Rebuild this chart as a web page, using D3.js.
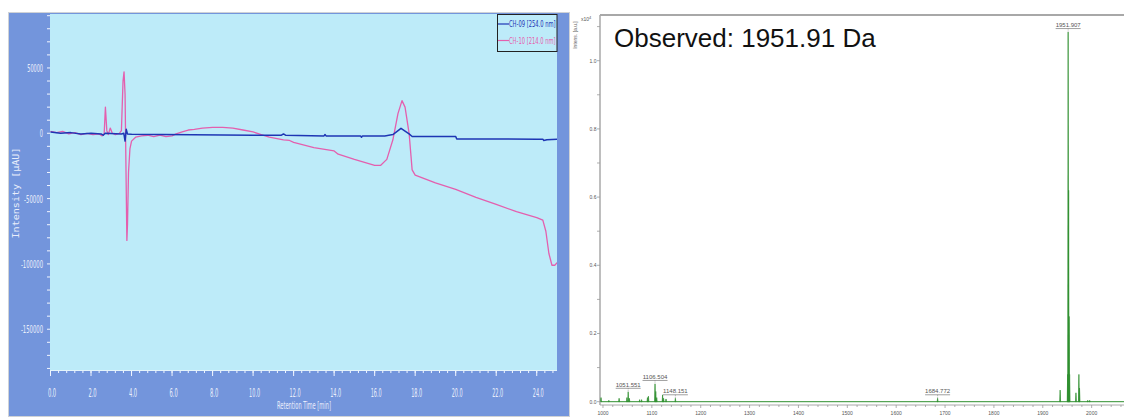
<!DOCTYPE html>
<html>
<head>
<meta charset="utf-8">
<script src="https://cdn.jsdelivr.net/npm/d3@7"></script>
<style>
  body { margin: 0; background: #fff; }
  svg { display: block; }
</style>
</head>
<body>
<svg id="chart" width="1124" height="417"></svg>
<script>
// ---------- HPLC chromatogram ----------
// CH-10 (214 nm): retention time [min] and intensity [µAU]
const ch10Time = [0, 0.3, 0.6, 0.9, 1.2, 1.5, 1.8, 2.1, 2.4, 2.55, 2.65, 2.71, 2.78, 2.85, 2.95, 3.05, 3.2, 3.4, 3.5,
  3.58, 3.63, 3.68, 3.72, 3.77, 3.8, 3.85, 3.92, 4.0, 4.2, 4.5, 4.8, 5.1, 5.4, 5.7, 6.0, 6.2, 6.5, 6.8, 7.1, 7.5,
  8.0, 8.5, 9.0, 9.5, 10.0, 10.4, 10.8, 11.5, 11.8, 12.0, 13.0, 14.0, 14.2, 15.0, 16.0, 16.3, 16.6, 16.9, 17.15,
  17.35, 17.5, 17.7, 17.85, 18.0, 19.0, 20.0, 21.0, 22.0, 23.0, 24.0, 24.3, 24.45, 24.6, 24.75, 24.9, 25.0];
const ch10Value = [1500, 500, 1500, -500, 500, -1000, 0, -1000, -500, -2000, 0, 20000, 2000, -1000, 4000, 0, -1000, 0, 2000,
  40000, 47000, 30000, -20000, -82000, -70000, -30000, -12000, -6000, -3000, -2000, -1500, -2500, -1500, -2500, -2000, -500, 1000, 2500, 3000, 4000,
  4500, 4500, 4000, 2500, 1000, -1000, -3000, -5000, -5500, -7000, -11000, -13500, -16000, -20000, -24500, -24500, -20000, -5000, 15000,
  25000, 20000, 0, -28000, -32000, -38000, -43000, -49000, -54500, -60000, -64500, -66500, -75000, -92000, -101000, -101000, -99000];

// CH-09 (254 nm)
const ch09Time = [0, 0.5, 1.0, 1.5, 2.0, 2.5, 2.6, 2.7, 3.5, 3.62, 3.68, 3.74, 3.8, 4.0, 10.0, 11.4, 11.5, 11.6, 13.5, 13.55,
  13.6, 15.3, 15.35, 15.4, 16.5, 16.9, 17.3, 17.7, 17.85, 20.0, 20.05, 24.0, 24.3, 24.35, 24.5, 25.0];
const ch09Value = [1000, 0, 500, -500, 0, -500, -1500, 0, -500, 0, -6000, 3000, -500, -800, -1500, -1500, -500, -1500, -2000, -1000,
  -2000, -2000, -3000, -2000, -2000, -1000, 3800, -500, -2500, -2500, -4300, -4500, -4500, -5500, -5000, -4500];

const hplcTimeTicks = [0, 2, 4, 6, 8, 10, 12, 14, 16, 18, 20, 22, 24];
const hplcIntensityTicks = [50000, 0, -50000, -100000, -150000];
const legendLabels = ["CH-09 [254.0 nm]", "CH-10 [214.0 nm]"];

// ---------- MALDI-TOF spectrum ----------
// peak m/z and intensity (x10^4 a.u.)
const msPeakMz = [996, 1012, 1033, 1049, 1051.551, 1054, 1075, 1079, 1091, 1093, 1106.504, 1108, 1110, 1122, 1124, 1129,
  1148.151, 1684.772, 1935.5, 1950.9, 1951.907, 1952.9, 1953.9, 1954.9, 1967.9, 1973.9, 1975.2, 1992, 1996];
const msPeakIntensity = [0.012, 0.004, 0.010, 0.012, 0.029, 0.010, 0.006, 0.006, 0.012, 0.016, 0.052, 0.030, 0.012, 0.020, 0.010, 0.008,
  0.010, 0.010, 0.034, 0.080, 1.084, 0.62, 0.25, 0.08, 0.026, 0.080, 0.040, 0.004, 0.004];
const msLabelMz = [1051.551, 1106.504, 1148.151, 1684.772, 1951.907];
const msMzTicks = [1000, 1100, 1200, 1300, 1400, 1500, 1600, 1700, 1800, 1900, 2000];
const msIntensityTicks = [0, 0.2, 0.4, 0.6, 0.8, 1.0];
const observedText = "Observed: 1951.91 Da";

const svg = d3.select("#chart");
svg.append("rect").attr("width", 1124).attr("height", 417).attr("fill", "#fff");

// ===== Left panel: chromatogram =====
const frameBlue = "#7395dc";
const plotBg = "#bdebf9";
const axisText = "#e9eefb";
const narrow = "'Liberation Sans Narrow','DejaVu Sans Condensed',sans-serif";

const L = { left: 50, right: 557, top: 14, bottom: 370 };
svg.append("rect").attr("x", 8.5).attr("y", 12.5).attr("width", 561).attr("height", 404)
  .attr("fill", frameBlue).attr("stroke", "#cfd2d6").attr("stroke-width", 1);
svg.append("rect").attr("x", L.left).attr("y", L.top).attr("width", L.right - L.left).attr("height", L.bottom - L.top)
  .attr("fill", plotBg);

const xT = d3.scaleLinear().domain([0, 25]).range([L.left + 0.5, L.right]);
const yI = d3.scaleLinear().domain([-181200, 91300]).range([L.bottom, L.top]);

// y ticks (minor every 10000)
const gy = svg.append("g");
gy.selectAll("line").data(d3.range(-180000, 90001, 10000)).join("line")
  .attr("x1", L.left - 3).attr("x2", L.left)
  .attr("y1", d => yI(d)).attr("y2", d => yI(d))
  .attr("stroke", "#f2f6ff").attr("stroke-width", 1);
gy.selectAll("text").data(hplcIntensityTicks).join("text")
  .attr("x", 43).attr("y", d => yI(d))
  .attr("text-anchor", "end").attr("dominant-baseline", "central")
  .attr("font-family", narrow).attr("font-size", 10.5).attr("fill", axisText)
  .attr("textLength", d => String(d).length * 3.15).attr("lengthAdjust", "spacingAndGlyphs")
  .text(d => String(d));

// x ticks (minor every 0.4 min)
const gx = svg.append("g");
svg.append("line").attr("x1", L.left).attr("x2", L.right).attr("y1", L.bottom + 0.5).attr("y2", L.bottom + 0.5)
  .attr("stroke", "#e4f4fb").attr("stroke-width", 1);
gx.selectAll("line.minor").data(d3.range(0, 25.01, 0.4)).join("line").attr("class", "minor")
  .attr("x1", d => xT(d)).attr("x2", d => xT(d))
  .attr("y1", L.bottom).attr("y2", L.bottom + 3)
  .attr("stroke", "#f2f6ff").attr("stroke-width", 1);
gx.selectAll("line.major").data(hplcTimeTicks).join("line").attr("class", "major")
  .attr("x1", d => xT(d)).attr("x2", d => xT(d))
  .attr("y1", L.bottom).attr("y2", L.bottom + 6)
  .attr("stroke", "#f2f6ff").attr("stroke-width", 1);
gx.selectAll("text").data(hplcTimeTicks).join("text")
  .attr("x", d => xT(d) + 1.5).attr("y", 392)
  .attr("text-anchor", "middle").attr("dominant-baseline", "central")
  .attr("font-family", narrow).attr("font-size", 13).attr("fill", axisText)
  .attr("textLength", d => d.toFixed(1).length * 2.75).attr("lengthAdjust", "spacingAndGlyphs")
  .text(d => d.toFixed(1));

// axis titles
svg.append("text").attr("x", 304).attr("y", 405)
  .attr("text-anchor", "middle").attr("dominant-baseline", "central")
  .attr("font-family", narrow).attr("font-size", 11).attr("fill", axisText)
  .attr("textLength", 54).attr("lengthAdjust", "spacingAndGlyphs")
  .text("Retention Time [min]");
svg.append("text").attr("transform", "translate(15,193) rotate(-90)")
  .attr("text-anchor", "middle").attr("dominant-baseline", "central")
  .attr("font-family", "'DejaVu Sans Mono',monospace").attr("font-size", 9.5).attr("fill", axisText)
  .attr("textLength", 91).attr("lengthAdjust", "spacingAndGlyphs")
  .text("Intensity [µAU]");

// traces
const clip = svg.append("clipPath").attr("id", "hplcClip");
clip.append("rect").attr("x", L.left).attr("y", L.top).attr("width", L.right - L.left).attr("height", L.bottom - L.top);
const traceLine = d3.line().x(d => xT(d[0])).y(d => yI(d[1]));
const ch09 = ch09Time.map((t, i) => [t, ch09Value[i]]);
const ch10 = ch10Time.map((t, i) => [t, ch10Value[i]]);
svg.append("path").attr("d", traceLine(ch10)).attr("clip-path", "url(#hplcClip)")
  .attr("fill", "none").attr("stroke", "#e45fae").attr("stroke-width", 1.3).attr("stroke-linejoin", "round");
svg.append("path").attr("d", traceLine(ch09)).attr("clip-path", "url(#hplcClip)")
  .attr("fill", "none").attr("stroke", "#1e36b4").attr("stroke-width", 1.5).attr("stroke-linejoin", "round");

// legend
const legendColors = ["#1e36b4", "#e45fae"];
svg.append("rect").attr("x", 497.5).attr("y", 14.5).attr("width", 59.5).attr("height", 37)
  .attr("fill", "none").attr("stroke", "#222").attr("stroke-width", 1);
const lg = svg.append("g").selectAll("g").data(legendLabels).join("g")
  .attr("transform", (d, i) => `translate(0,${24 + i * 16.5})`);
lg.append("line").attr("x1", 498).attr("x2", 509).attr("y1", 0).attr("y2", 0)
  .attr("stroke", (d, i) => legendColors[i]).attr("stroke-width", 1.2);
lg.append("text").attr("x", 509).attr("y", 0).attr("dominant-baseline", "central")
  .attr("font-family", narrow).attr("font-size", 9).attr("fill", (d, i) => legendColors[i])
  .attr("textLength", 46.5).attr("lengthAdjust", "spacingAndGlyphs")
  .text(d => d);

// ===== Right panel: mass spectrum =====
const R = { left: 600, right: 1124, top: 15, bottom: 405 };
const xM = d3.scaleLinear().domain([993.9, 2066.2]).range([R.left, R.right]);
const yM = d3.scaleLinear().domain([-0.0097, 1.134]).range([R.bottom, R.top]);
const grey = "#9a9a9a";

svg.append("line").attr("x1", R.left).attr("x2", R.right).attr("y1", R.top).attr("y2", R.top)
  .attr("stroke", "#a8a8a8").attr("stroke-width", 2);
svg.append("line").attr("x1", R.left).attr("x2", R.left).attr("y1", R.top).attr("y2", R.bottom)
  .attr("stroke", "#a8a8a8").attr("stroke-width", 1.5);
svg.append("line").attr("x1", R.left).attr("x2", R.right).attr("y1", R.bottom).attr("y2", R.bottom)
  .attr("stroke", "#a8a8a8").attr("stroke-width", 1);

// y ticks
const my = svg.append("g");
my.selectAll("line").data(d3.range(0, 1.101, 0.1)).join("line")
  .attr("x1", R.left - 3).attr("x2", R.left).attr("y1", d => yM(d)).attr("y2", d => yM(d))
  .attr("stroke", grey).attr("stroke-width", 0.8);
my.selectAll("text").data(msIntensityTicks).join("text")
  .attr("x", R.left - 3.5).attr("y", d => yM(d))
  .attr("text-anchor", "end").attr("dominant-baseline", "central")
  .attr("font-family", "'Liberation Sans',Arial,sans-serif").attr("font-size", 5).attr("fill", "#555")
  .text(d => d.toFixed(1));

// x ticks (minor every 20 Da)
const mx = svg.append("g");
mx.selectAll("line").data(d3.range(1000, 2061, 20)).join("line")
  .attr("x1", d => xM(d)).attr("x2", d => xM(d)).attr("y1", R.bottom).attr("y2", d => R.bottom + (d % 100 === 0 ? 3 : 2))
  .attr("stroke", grey).attr("stroke-width", 0.8);
mx.selectAll("text").data(msMzTicks).join("text")
  .attr("x", d => xM(d)).attr("y", 413)
  .attr("text-anchor", "middle").attr("dominant-baseline", "central")
  .attr("font-family", "'Liberation Sans',Arial,sans-serif").attr("font-size", 5).attr("fill", "#555")
  .text(d => d);

// axis title and exponent
svg.append("text").attr("transform", "translate(575,35) rotate(-90)")
  .attr("text-anchor", "middle").attr("dominant-baseline", "central")
  .attr("font-family", "'Liberation Sans',Arial,sans-serif").attr("font-size", 5).attr("fill", "#666")
  .text("Intens. [a.u.]");
const expo = svg.append("text").attr("x", 581).attr("y", 21)
  .attr("font-family", "'Liberation Sans',Arial,sans-serif").attr("font-size", 5).attr("fill", "#555");
expo.append("tspan").text("x10");
expo.append("tspan").attr("dy", -2).attr("font-size", 4).text("4");

// spectrum baseline and peaks
const green = "#2f8f2f";
svg.append("line").attr("x1", xM(996)).attr("x2", R.right).attr("y1", yM(0)).attr("y2", yM(0))
  .attr("stroke", green).attr("stroke-width", 1);
const peakArea = d3.area().x(d => xM(d[0])).y0(yM(0)).y1(d => yM(d[1]));
const halfWidth = 0.9;
svg.append("g").selectAll("path").data(msPeakMz.map((m, i) => [m, msPeakIntensity[i]])).join("path")
  .attr("d", d => peakArea([[d[0] - halfWidth, 0], [d[0], d[1]], [d[0] + halfWidth, 0]]))
  .attr("fill", green).attr("stroke", green).attr("stroke-width", 0.7).attr("stroke-linejoin", "miter");

// peak annotations
const labelG = svg.append("g").selectAll("g").data(msLabelMz).join("g");
labelG.each(function (m) {
  const g = d3.select(this);
  const h = msPeakIntensity[msPeakMz.indexOf(m)];
  const px = xM(m), top = yM(h);
  const uy = top - 3.5;
  g.append("line").attr("x1", px).attr("x2", px).attr("y1", uy).attr("y2", top)
    .attr("stroke", "#777").attr("stroke-width", 0.6).attr("stroke-dasharray", "1,1");
  g.append("line").attr("x1", px - 12.5).attr("x2", px + 12.5).attr("y1", uy).attr("y2", uy)
    .attr("stroke", "#777").attr("stroke-width", 0.7);
  g.append("text").attr("x", px).attr("y", uy - 1.3).attr("text-anchor", "middle")
    .attr("font-family", "'Liberation Sans',Arial,sans-serif").attr("font-size", 6).attr("fill", "#555")
    .text(m.toFixed(3));
});

// observed mass
svg.append("text").attr("x", 614).attr("y", 47)
  .attr("font-family", "'Liberation Sans',Arial,sans-serif").attr("font-size", 26).attr("fill", "#111")
  .text(observedText);
</script>
</body>
</html>
